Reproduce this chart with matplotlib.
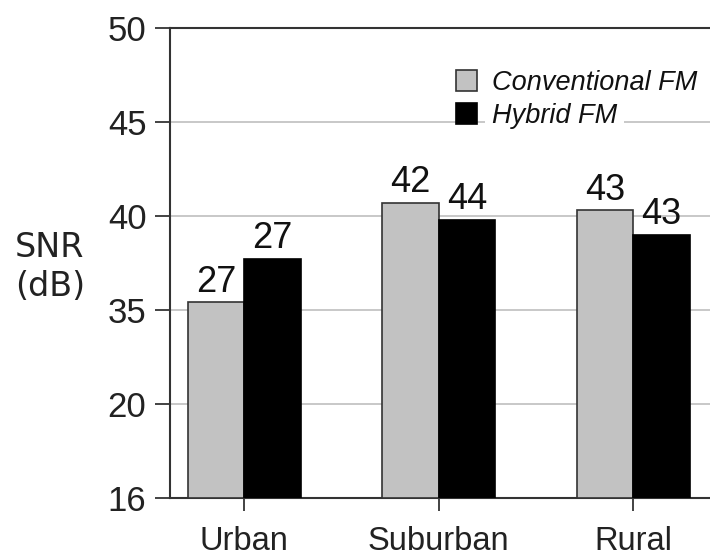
import matplotlib
matplotlib.use("Agg")
import matplotlib.pyplot as plt
import numpy as np

plt.rcParams['font.family'] = ['Liberation Sans', 'DejaVu Sans']

# data
categories = ['Urban', 'Suburban', 'Rural']
tick_values = [16, 20, 35, 40, 45, 50]          # unevenly spaced axis labels
conventional = [35.4, 40.7, 40.3]               # bar tops
hybrid = [37.7, 39.8, 39.0]
conventional_labels = ['27', '42', '43']
hybrid_labels = ['27', '44', '43']

# axis labels are placed at equal distances, so map them piecewise
tick_pos = np.arange(len(tick_values))

def forward(v):
    return np.interp(v, tick_values, tick_pos)

def inverse(p):
    return np.interp(p, tick_pos, tick_values)

fig = plt.figure(figsize=(7.1, 5.56), dpi=100)
ax = fig.add_axes([170 / 710, 58 / 556, 540 / 710, 470 / 556])
ax.set_yscale('function', functions=(forward, inverse))

x = np.arange(len(categories))
width = 0.29
base = tick_values[0]

rects1 = ax.bar(x - width / 2, np.array(conventional) - base, width, bottom=base,
                color='#c2c2c2', edgecolor='#333333', linewidth=1.2,
                label='Conventional FM', zorder=3)
rects2 = ax.bar(x + width / 2, np.array(hybrid) - base, width, bottom=base,
                color='black', edgecolor='black', linewidth=1.2,
                label='Hybrid FM', zorder=3)

def autolabel(rects, labels):
    for rect, lab in zip(rects, labels):
        top = rect.get_y() + rect.get_height()
        ax.annotate(lab, xy=(rect.get_x() + rect.get_width() / 2, top),
                    xytext=(0, 2), textcoords='offset points',
                    ha='center', va='bottom', fontsize=26, color='#111111')

autolabel(rects1, conventional_labels)
autolabel(rects2, hybrid_labels)

ax.set_ylim(tick_values[0], tick_values[-1])
ax.set_xlim(-0.381, 2.395)
ax.set_yticks(tick_values)
ax.set_yticklabels([str(t) for t in tick_values])
ax.set_xticks(x)
ax.set_xticklabels(categories)
ax.minorticks_off()

ax.tick_params(axis='y', direction='out', length=11, width=1.2, pad=6,
               labelsize=25, colors='#222222')
ax.tick_params(axis='x', direction='out', length=9, width=1.2, pad=11,
               labelsize=23.5, colors='#222222')

ax.yaxis.grid(True, color='#c8c8c8', linewidth=1.4, zorder=0)
ax.set_axisbelow(True)

for side in ['left', 'bottom', 'top']:
    ax.spines[side].set_color('#333333')
    ax.spines[side].set_linewidth(1.5)
ax.spines['right'].set_visible(False)

fig.text(15 / 710, 1 - 267 / 556, 'SNR\n(dB)', ha='left', va='center',
         fontsize=24, family='DejaVu Sans', color='#222222', linespacing=1.2)

leg = ax.legend(loc='upper left', bbox_to_anchor=(456 / 710, 1 - 70 / 556),
                bbox_transform=fig.transFigure, frameon=False,
                prop={'style': 'italic', 'size': 19.5},
                handlelength=0.78, handleheight=0.78, handletextpad=0.55,
                labelspacing=0.25, borderpad=0, borderaxespad=0)
leg.set_zorder(5)
for t in leg.get_texts():
    t.set_bbox(dict(facecolor='white', edgecolor='none', pad=5))
    t.set_color('#111111')

fig.savefig('out.png', dpi=100, facecolor='white')
